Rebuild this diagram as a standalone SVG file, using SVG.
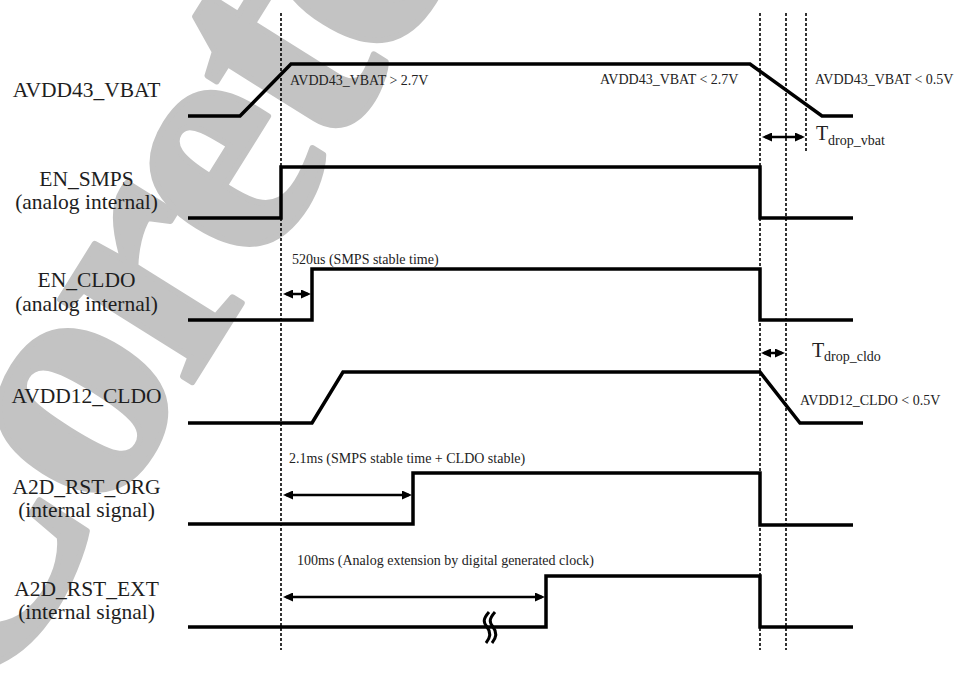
<svg xmlns="http://www.w3.org/2000/svg" width="960" height="675" viewBox="0 0 960 675">
<style>
.bg{fill:#fff}
.wm{font-family:"Liberation Serif",serif;font-weight:bold;font-size:340px;letter-spacing:-12px;fill:#c3c3c3;stroke:#c3c3c3;stroke-width:6;stroke-linejoin:round}
.sig{fill:none;stroke:#000;stroke-width:3.5;stroke-linejoin:miter;stroke-linecap:butt}
.dot{fill:none;stroke:#000;stroke-width:1.6;stroke-dasharray:3 2}
.arr{fill:none;stroke:#000;stroke-width:2.5;marker-start:url(#ah);marker-end:url(#ah)}
.brk{fill:none;stroke:#000;stroke-width:3}
.lbl{font-family:"Liberation Serif",serif;font-size:21.5px;text-anchor:middle;fill:#1e1e1e}
.ann{font-family:"Liberation Serif",serif;font-size:14px;fill:#222}
.tb{font-family:"Liberation Serif",serif;font-size:20px;fill:#222}
</style>
<defs>
<marker id="ah" viewBox="0 0 10 9" markerUnits="userSpaceOnUse" markerWidth="10" markerHeight="9" refX="7" refY="4.5" orient="auto-start-reverse">
<path d="M0,0 L10,4.5 L0,9 z" fill="#000"/>
</marker>
</defs>
<rect class="bg" x="0" y="0" width="960" height="675"/>
<text class="wm" transform="translate(-20,722) rotate(-58)">Coretek</text>

<g id="connectors">
<line class="dot" x1="281" y1="13" x2="281" y2="650"/>
<line class="dot" x1="760" y1="13" x2="760" y2="650"/>
<line class="dot" x1="786" y1="13" x2="786" y2="650"/>
<line class="dot" x1="806" y1="13" x2="806" y2="152"/>
<line class="arr" x1="286" y1="294" x2="308" y2="294"/>
<line class="arr" x1="286" y1="495" x2="409" y2="495"/>
<line class="arr" x1="286" y1="597" x2="542" y2="597"/>
<line class="arr" x1="765" y1="137" x2="802" y2="137"/>
<line class="arr" x1="764" y1="353" x2="782" y2="353"/>
</g>

<g id="sig-avdd43">
<text class="lbl" x="86.5" y="97">AVDD43_VBAT</text>
<path class="sig" d="M188,116 H240 L291,64 H750 L822,116 H853"/>
<text class="ann" x="290" y="85">AVDD43_VBAT &gt; 2.7V</text>
<text class="ann" x="600" y="84">AVDD43_VBAT &lt; 2.7V</text>
<text class="ann" x="815" y="84">AVDD43_VBAT &lt; 0.5V</text>
<text class="tb" x="816" y="140">T<tspan class="ann" x="828" y="145">drop_vbat</tspan></text>
</g>

<g id="sig-en-smps">
<text class="lbl" x="86.5" y="186">EN_SMPS</text>
<text class="lbl" x="86.5" y="209">(analog internal)</text>
<path class="sig" d="M188,218 H281 V167 H760 V218 H853"/>
</g>

<g id="sig-en-cldo">
<text class="lbl" x="86.5" y="287">EN_CLDO</text>
<text class="lbl" x="86.5" y="311">(analog internal)</text>
<path class="sig" d="M188,320 H312 V269 H760 V320 H853"/>
<text class="ann" x="292" y="264">520us (SMPS stable time)</text>
</g>

<g id="sig-avdd12">
<text class="lbl" x="86.5" y="403">AVDD12_CLDO</text>
<path class="sig" d="M188,423 H312 L343,372 H760 L800,423 H863"/>
<text class="tb" x="812" y="357">T<tspan class="ann" x="824" y="361">drop_cldo</tspan></text>
<text class="ann" x="800" y="405">AVDD12_CLDO &lt; 0.5V</text>
</g>

<g id="sig-rst-org">
<text class="lbl" x="86.5" y="494">A2D_RST_ORG</text>
<text class="lbl" x="86.5" y="517">(internal signal)</text>
<path class="sig" d="M188,524 H413 V473 H760 V525 H853"/>
<text class="ann" x="289" y="463">2.1ms (SMPS stable time + CLDO stable)</text>
</g>

<g id="sig-rst-ext">
<text class="lbl" x="86.5" y="596">A2D_RST_EXT</text>
<text class="lbl" x="86.5" y="619">(internal signal)</text>
<path class="sig" d="M188,627 H546 V576 H760 V627 H853"/>
<text class="ann" x="297" y="565">100ms (Analog extension by digital generated clock)</text>
<path class="brk" d="M489,612 C483,619 483,622 487,627 C491,632 491,637 486,643"/>
<path class="brk" d="M495,612 C489,619 489,622 493,627 C497,632 497,637 492,643"/>
</g>
</svg>
